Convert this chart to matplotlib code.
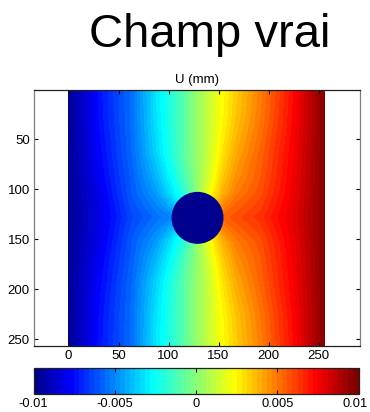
import numpy as np
import matplotlib
matplotlib.use('Agg')
import matplotlib.pyplot as plt
from matplotlib.colors import ListedColormap, Normalize
from matplotlib.patches import Circle
import matplotlib.cm as cm
import matplotlib.transforms as mtransforms

plt.rcParams['font.family'] = ['Liberation Sans', 'DejaVu Sans']

# ---------------- data ----------------
title_text = 'Champ vrai'
field_title = 'U (mm)'

x_pos = [0, 32, 64, 88, 104, 116, 128, 140, 154, 168, 192, 224, 256]
y_pos = [0, 32, 64, 88, 104, 116, 128, 140, 152, 168, 192, 224, 256]

u_y000 = [-0.0098, -0.0073, -0.0055, -0.0031, -0.0019, -0.0009, 0.0002, 0.0012, 0.0023, 0.0033, 0.0048, 0.0071, 0.0097]
u_y032 = [-0.0098, -0.0074, -0.0055, -0.0032, -0.0019, -0.0009, 0.0002, 0.0012, 0.0024, 0.0035, 0.0050, 0.0072, 0.0097]
u_y064 = [-0.0098, -0.0076, -0.0056, -0.0035, -0.0020, -0.0009, 0.0002, 0.0012, 0.0028, 0.0040, 0.0054, 0.0074, 0.0097]
u_y088 = [-0.0098, -0.0078, -0.0058, -0.0041, -0.0026, -0.0013, 0.0001, 0.0015, 0.0033, 0.0045, 0.0056, 0.0075, 0.0097]
u_y104 = [-0.0098, -0.0080, -0.0059, -0.0046, -0.0031, -0.0019, 0.0000, 0.0020, 0.0038, 0.0049, 0.0058, 0.0076, 0.0097]
u_y116 = [-0.0098, -0.0081, -0.0061, -0.0051, -0.0041, -0.0025, 0.0000, 0.0025, 0.0046, 0.0054, 0.0061, 0.0077, 0.0097]
u_y128 = [-0.0098, -0.0081, -0.0063, -0.0055, -0.0050, -0.0030, 0.0000, 0.0030, 0.0054, 0.0058, 0.0064, 0.0078, 0.0097]
u_y140 = [-0.0098, -0.0081, -0.0061, -0.0051, -0.0041, -0.0025, 0.0000, 0.0025, 0.0046, 0.0054, 0.0061, 0.0077, 0.0097]
u_y152 = [-0.0098, -0.0080, -0.0059, -0.0046, -0.0031, -0.0019, 0.0000, 0.0020, 0.0038, 0.0049, 0.0058, 0.0076, 0.0097]
u_y168 = [-0.0098, -0.0078, -0.0058, -0.0041, -0.0026, -0.0013, 0.0001, 0.0015, 0.0033, 0.0045, 0.0056, 0.0075, 0.0097]
u_y192 = [-0.0098, -0.0076, -0.0056, -0.0035, -0.0020, -0.0009, 0.0002, 0.0012, 0.0028, 0.0040, 0.0054, 0.0074, 0.0097]
u_y224 = [-0.0098, -0.0074, -0.0055, -0.0032, -0.0019, -0.0009, 0.0002, 0.0012, 0.0024, 0.0035, 0.0050, 0.0072, 0.0097]
u_y256 = [-0.0098, -0.0073, -0.0055, -0.0031, -0.0019, -0.0009, 0.0002, 0.0012, 0.0023, 0.0033, 0.0048, 0.0071, 0.0097]

hole_center = (129, 128.5)
hole_radius = 26

x_ticks = [0, 50, 100, 150, 200, 250]
y_ticks = [50, 100, 150, 200, 250]
cbar_ticks = [-0.01, -0.005, 0, 0.005, 0.01]
cbar_ticklabels = ['-0.01', '-0.005', '0', '0.005', '0.01']
u_min, u_max = -0.01, 0.01

# ---------------- MATLAB-style jet(64) colormap ----------------
def matlab_jet(m=64):
    n = int(np.ceil(m / 4))
    u = np.concatenate([np.arange(1, n + 1) / n, np.ones(n - 1), np.arange(n, 0, -1) / n])
    g = int(np.ceil(n / 2)) - (1 if m % 4 == 1 else 0) + np.arange(1, len(u) + 1)
    r = g + n
    b = g - n
    g = g[g <= m]
    r = r[r <= m]
    b = b[b >= 1]
    J = np.zeros((m, 3))
    J[r - 1, 0] = u[:len(r)]
    J[g - 1, 1] = u[:len(g)]
    J[b - 1, 2] = u[len(u) - len(b):]
    return ListedColormap(J)

jet = matlab_jet(64)
jet.set_under(jet(0))
jet.set_over(jet(jet.N - 1))
norm = Normalize(u_min, u_max)

U = np.array([u_y000, u_y032, u_y064, u_y088, u_y104, u_y116, u_y128,
              u_y140, u_y152, u_y168, u_y192, u_y224, u_y256])
X, Y = np.meshgrid(x_pos, y_pos)

# ---------------- figure ----------------
fig = plt.figure(figsize=(3.70, 4.12), dpi=100)
ax = fig.add_axes([34 / 370, 1 - 345.7 / 412, 326 / 370, 255.7 / 412])

levels = np.linspace(u_min, u_max, 65)
cs = ax.contourf(X, Y, U, levels=levels, cmap=jet, norm=norm, extend='both',
                 antialiased=False)
ax.add_patch(Circle(hole_center, hole_radius, facecolor=jet(0), edgecolor='none', zorder=3))

ax.set_xlim(-34.5, 291.5)
ax.set_ylim(256.5, 0.5)
ax.set_xticks(x_ticks)
ax.set_yticks(y_ticks)
ax.tick_params(direction='in', top=True, right=True, length=3, width=0.8,
               labelsize=9.5, pad=3, colors='black')
for side in ['left', 'right']:
    ax.spines[side].set_color('#7f7f7f')
for side in ['top', 'bottom']:
    ax.spines[side].set_color('#202020')
for s in ax.spines.values():
    s.set_linewidth(0.9)
ax.set_title(field_title, fontsize=9.5, pad=5)

fig.text(210 / 370, 1 - 47 / 412, title_text, fontsize=34, ha='center', va='baseline')

# ---------------- colorbar ----------------
cax = fig.add_axes([33.5 / 370, 1 - 394 / 412, 325 / 370, 26.3 / 412])
sm = cm.ScalarMappable(norm=norm, cmap=jet)
cb = fig.colorbar(sm, cax=cax, orientation='horizontal', ticks=cbar_ticks)
cb.ax.set_xticklabels(cbar_ticklabels)
cb.outline.set_linewidth(0.9)
cb.outline.set_edgecolor('#202020')
cax.tick_params(direction='in', top=True, bottom=True, length=3, width=0.8,
                labelsize=9.3, pad=3)
# keep the last label inside the figure, as in the reference
last = cax.get_xticklabels()[-1]
last.set_transform(last.get_transform() +
                   mtransforms.ScaledTranslation(-3 / 100, 0, fig.dpi_scale_trans))

fig.savefig('out.png', dpi=100)
